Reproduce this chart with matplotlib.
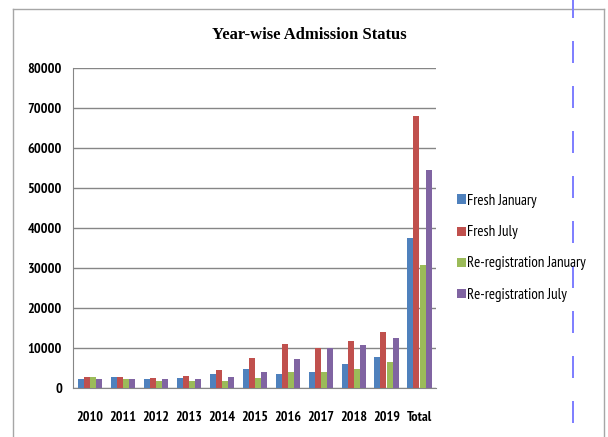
import matplotlib
matplotlib.use("Agg")
import matplotlib.pyplot as plt
import numpy as np
from matplotlib.lines import Line2D
from matplotlib.patches import Rectangle
from matplotlib import font_manager
from matplotlib.font_manager import FontProperties

categories = ["2010", "2011", "2012", "2013", "2014", "2015", "2016", "2017", "2018", "2019", "Total"]
fresh_jan = [2250, 2750, 2250, 2500, 3600, 4700, 3500, 3900, 6000, 7700, 37500]
fresh_jul = [2750, 2750, 2500, 3100, 4400, 7400, 11100, 10000, 11700, 14000, 68000]
rereg_jan = [2750, 2250, 1750, 1750, 1750, 2400, 4100, 4100, 4800, 6500, 30700]
rereg_jul = [2250, 2250, 2250, 2250, 2750, 4100, 7200, 10000, 10700, 12400, 54500]
series_names = ["Fresh January", "Fresh July", "Re-registration January", "Re-registration July"]
yticks = [0, 10000, 20000, 30000, 40000, 50000, 60000, 70000, 80000]
title = "Year-wise Admission Status"

colors = ["#4F81BD", "#C0504D", "#9BBB59", "#8064A2"]

available = {f.name for f in font_manager.fontManager.ttflist}


def pick(names):
    for n in names:
        if n in available:
            return n
    return names[-1]


sans_narrow = pick(["PT Sans Narrow", "Roboto Condensed", "Open Sans Condensed", "Archivo Narrow",
                    "Fira Sans Condensed", "Liberation Sans Narrow", "Carlito", "Liberation Sans"])
serif_font = pick(["Tinos", "Liberation Serif"])

fig = plt.figure(figsize=(6.08, 4.37), dpi=100)
W, H = 608, 437
renderer = fig.canvas.get_renderer()


def fit(family, weight, s, target_px, maxsize):
    p = FontProperties(family=family, weight=weight, size=10)
    w, h, d = renderer.get_text_width_height_descent(s, p, ismath=False)
    size = 10 * target_px / w
    p.set_size(min(size, maxsize))
    return p


xtick_prop = fit(sans_narrow, "bold", "2010", 27, 13)
ytick_prop = fit(sans_narrow, "bold", "80000", 34, 13)
leg_prop = fit(sans_narrow, "normal", "Re-registration January", 120, 13)
title_prop = FontProperties(family=serif_font, weight="bold", size=12)

# outer chart frame
frame_col = "#A6A6A6"
fig.add_artist(Line2D([13 / W, 604 / W], [1 - 9 / H, 1 - 9 / H], color=frame_col, lw=1.0, transform=fig.transFigure))
fig.add_artist(Line2D([13 / W, 13 / W], [1 - 9 / H, 0], color=frame_col, lw=1.0, transform=fig.transFigure))
fig.add_artist(Line2D([604 / W, 604 / W], [1 - 9 / H, 0], color=frame_col, lw=1.0, transform=fig.transFigure))

# blue dashed line
dl = Line2D([573 / W, 573 / W], [1, 0], color="#8080FF", lw=2 * 0.72, transform=fig.transFigure,
            linestyle=(2, (11, 11.5)))
fig.add_artist(dl)

ax = fig.add_axes([73 / W, 1 - 388 / H, (436 - 73) / W, (388 - 68) / H])

x = np.arange(len(categories))
w = 1 / 5.5
data = [fresh_jan, fresh_jul, rereg_jan, rereg_jul]
for i, (vals, c, name) in enumerate(zip(data, colors, series_names)):
    ax.bar(x + (i - 1.5) * w, vals, width=w, color=c, label=name, zorder=3, linewidth=0)

ax.set_xlim(-0.5, len(categories) - 0.5)
ax.set_ylim(0, 80000)
ax.set_yticks(yticks)
ax.set_yticklabels([str(v) for v in yticks], fontproperties=ytick_prop)
ax.set_xticks(x)
ax.set_xticklabels(categories, fontproperties=xtick_prop)
for lab in ax.get_xticklabels():
    lab.set_verticalalignment("baseline")
ax.tick_params(axis="y", length=0, pad=8)
ax.tick_params(axis="x", length=0, pad=33 * 0.72)
ax.grid(axis="y", color="#868686", lw=1.0, zorder=0)
for s in ["top", "right"]:
    ax.spines[s].set_visible(False)
ax.spines["left"].set_color("#868686")
ax.spines["bottom"].set_color("#868686")
ax.set_axisbelow(True)

fig.text(309 / W, 1 - 35 / H, title, ha="center", va="center", fontproperties=title_prop, color="#000000")

# legend
leg_y = [199, 231, 262, 293]
for name, c, yy in zip(series_names, colors, leg_y):
    fig.add_artist(Rectangle((457 / W, 1 - (yy + 4.5) / H), 9 / W, 9 / H, transform=fig.transFigure,
                             facecolor=c, edgecolor="none"))
    fig.text(467 / W, 1 - yy / H, name, ha="left", va="center_baseline", fontproperties=leg_prop)

fig.savefig("out.png", dpi=100)
